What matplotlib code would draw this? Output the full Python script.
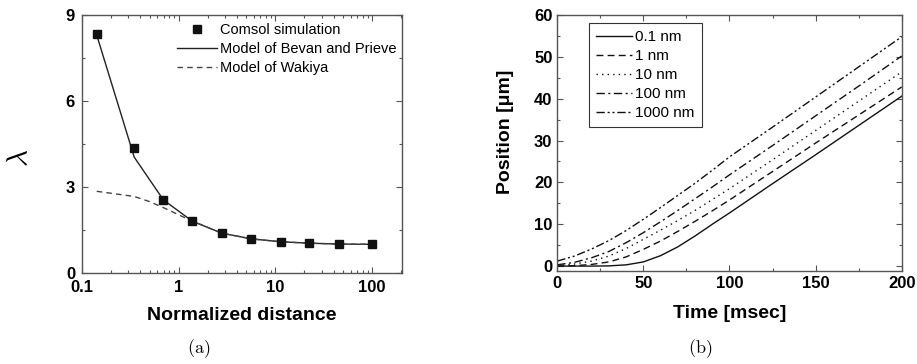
import matplotlib
matplotlib.use("Agg")
import matplotlib.pyplot as plt
from matplotlib.ticker import FixedLocator, MultipleLocator, LogLocator, NullFormatter, FuncFormatter

plt.rcParams["font.family"] = ["Liberation Sans", "DejaVu Sans"]
plt.rcParams["mathtext.fontset"] = "cm"

# (a) drag correction factor versus normalized distance
dist = [0.142, 0.347, 0.695, 1.38, 2.79, 5.66, 11.3, 22.4, 45.5, 100]
lam_comsol = [8.32, 4.37, 2.55, 1.81, 1.39, 1.20, 1.09, 1.03, 1.01, 1.00]
lam_bevan = [8.30, 4.04, 2.55, 1.81, 1.39, 1.19, 1.09, 1.04, 1.01, 1.00]
dist_wakiya = [0.142, 0.347, 0.5, 0.695, 1.0, 1.38, 2.79, 5.66, 11.3, 22.4, 45.5, 100]
lam_wakiya = [2.85, 2.67, 2.49, 2.28, 2.03, 1.81, 1.39, 1.19, 1.09, 1.04, 1.01, 1.00]

# (b) particle position versus time for several gap sizes
time_ms = [0, 10, 20, 30, 40, 50, 60, 70, 80, 90, 100, 125, 150, 175, 200]
gap_labels = ["0.1 nm", "1 nm", "10 nm", "100 nm", "1000 nm"]
pos_01 = [0.0, 0.0, 0.0, 0.05, 0.3, 1.0, 2.5, 4.6, 7.2, 10.0, 12.7, 19.7, 26.6, 33.6, 40.6]
pos_1 = [0.0, 0.1, 0.4, 1.0, 2.2, 4.0, 6.0, 8.3, 10.7, 13.2, 15.8, 22.6, 29.4, 36.1, 42.8]
pos_10 = [0.1, 0.5, 1.2, 2.4, 4.2, 6.4, 8.6, 10.9, 13.3, 15.9, 18.5, 25.4, 32.4, 39.4, 46.4]
pos_100 = [0.3, 0.9, 2.0, 3.5, 5.6, 8.0, 10.6, 13.3, 16.1, 18.9, 21.8, 28.8, 35.9, 43.0, 50.2]
pos_1000 = [1.2, 2.4, 4.1, 6.1, 8.5, 11.2, 14.0, 16.9, 19.8, 22.9, 26.1, 33.2, 40.4, 47.6, 54.8]
positions = [pos_01, pos_1, pos_10, pos_100, pos_1000]

spine_color = "#555555"
W, H = 917, 364

fig = plt.figure(figsize=(W / 100, H / 100), dpi=100)
ax1 = fig.add_axes([82 / W, 1 - 273 / H, 320 / W, 258 / H])
ax2 = fig.add_axes([557.3 / W, 1 - 270.7 / H, 344.4 / W, 255.7 / H])


def style_axes(ax, pad):
    for sp in ax.spines.values():
        sp.set_color(spine_color)
        sp.set_linewidth(1.0)
    ax.tick_params(which="both", direction="in", top=True, right=True,
                   color=spine_color, width=0.8)
    ax.tick_params(which="major", length=4, pad=pad)
    ax.tick_params(which="minor", length=2.5)
    for lbl in ax.get_xticklabels() + ax.get_yticklabels():
        lbl.set_fontsize(12)
        lbl.set_fontweight("bold")


# ---- panel (a)
ax1.plot(dist, lam_bevan, "-", color="#222222", lw=1.0, label="Model of Bevan and Prieve")
ax1.plot(dist_wakiya, lam_wakiya, linestyle=(0, (4, 3)), color="#444444", lw=1.0,
         label="Model of Wakiya")
ax1.plot(dist, lam_comsol, "s", color="#111111", ms=5.2, label="Comsol simulation")
ax1.set_xscale("log")
ax1.set_xlim(0.1, 204)
ax1.set_ylim(0, 9)
ax1.xaxis.set_major_locator(FixedLocator([0.1, 1, 10, 100]))
ax1.xaxis.set_major_formatter(FuncFormatter(
    lambda v, p: {0.1: "0.1", 1.0: "1", 10.0: "10", 100.0: "100"}.get(round(v, 1), "")))
ax1.xaxis.set_minor_locator(LogLocator(base=10, subs=range(2, 10), numticks=20))
ax1.xaxis.set_minor_formatter(NullFormatter())
ax1.yaxis.set_major_locator(MultipleLocator(3))
ax1.yaxis.set_minor_locator(MultipleLocator(1.5))
style_axes(ax1, 5)
ax1.set_xlabel("Normalized distance", fontsize=14, fontweight="bold", va="center")
ax1.xaxis.set_label_coords(0.5, (273 - 315) / 258)
fig.text(20 / W, 1 - 158 / H, r"$\lambda$", fontsize=21, rotation=90,
         ha="center", va="center")

h, l = ax1.get_legend_handles_labels()
order = [2, 0, 1]
ax1.legend([h[i] for i in order], [l[i] for i in order], loc="upper left",
           bbox_to_anchor=((176.7 - 82) / 320, (273 - 23) / 258), frameon=False,
           fontsize=10.5, handlelength=2.75, handletextpad=0.2, labelspacing=0.33,
           borderaxespad=0, borderpad=0)

# ---- panel (b)
styles = ["-", (0, (5, 3)), (0, (1, 3)), (0, (6, 2.5, 1.5, 2.5)),
          (0, (6, 2, 1.5, 2, 1.5, 2))]
for pos, lab, ls in zip(positions, gap_labels, styles):
    ax2.plot(time_ms, pos, linestyle=ls, color="#111111", lw=1.0, label=lab)
ax2.set_xlim(0, 200)
ax2.set_ylim(-1.1, 60)
ax2.xaxis.set_major_locator(MultipleLocator(50))
ax2.xaxis.set_minor_locator(MultipleLocator(25))
ax2.yaxis.set_major_locator(MultipleLocator(10))
ax2.yaxis.set_minor_locator(MultipleLocator(5))
style_axes(ax2, 3.5)
ax2.set_xlabel("Time [msec]", fontsize=14, fontweight="bold", va="center")
ax2.xaxis.set_label_coords(0.5, (270.7 - 313) / 255.7)
ax2.set_ylabel("Position [\u03bcm]", fontsize=14, fontweight="bold", va="center")
ax2.yaxis.set_label_coords((505 - 557.3) / 344.4, (270.7 - 131.7) / 255.7)
leg = ax2.legend(loc="upper left",
                 bbox_to_anchor=((589.3 - 557.3) / 344.4, (270.7 - 23.3) / 255.7),
                 fontsize=11, handlelength=2.3, handletextpad=0.25, labelspacing=0.32,
                 borderaxespad=0, fancybox=False, framealpha=1,
                 edgecolor="#333333", borderpad=0.47)
leg.get_frame().set_linewidth(0.8)

fig.text(199 / W, 1 - 349 / H, r"$\mathrm{(a)}$", fontsize=13, ha="center", va="center")
fig.text(700 / W, 1 - 349 / H, r"$\mathrm{(b)}$", fontsize=13, ha="center", va="center")

fig.savefig("out.png", dpi=100)
